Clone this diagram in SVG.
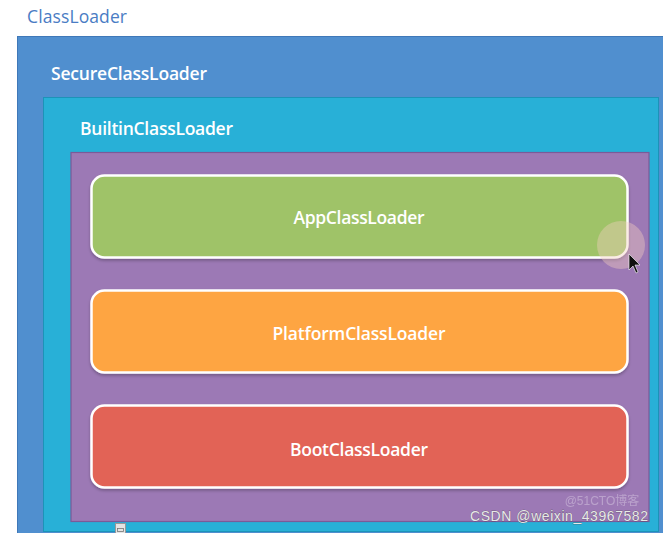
<svg xmlns="http://www.w3.org/2000/svg" width="663" height="533" viewBox="0 0 663 533">
  <defs>
    <style>
      .lbl { font-family: "Open Sans", "Noto Sans", "Liberation Sans", sans-serif; font-size: 17.5px; font-weight: 600; }
      .w { fill: #ffffff; }
      .box { stroke: #ffffff; stroke-width: 2.5; }
      .ctr { text-anchor: middle; }
      .wm { font-family: "Liberation Sans", "Noto Sans CJK SC", sans-serif; font-size: 14px; fill: #e8e8e8; stroke: #444; stroke-width: 0.4; paint-order: stroke; }
    </style>
    <filter id="sh" x="-5%" y="-10%" width="110%" height="130%">
      <feDropShadow dx="0" dy="2" stdDeviation="1.5" flood-color="#000" flood-opacity="0.25"/>
    </filter>
  </defs>
  <rect width="663" height="533" fill="#ffffff"/>

  <g id="classloader">
    <text class="lbl" x="27" y="23" fill="#4a7cc4" textLength="100" style="font-weight:500">ClassLoader</text>
    <rect x="17.5" y="36.5" width="660" height="510" fill="#508fcf" stroke="#3f78b8" stroke-width="1"/>
  </g>

  <g id="secureclassloader">
    <text class="lbl w" x="51" y="80" textLength="156">SecureClassLoader</text>
    <rect x="43.5" y="97.5" width="615" height="434" fill="#28b0d7" stroke="#1c93b8" stroke-width="1"/>
  </g>

  <g id="builtinclassloader">
    <text class="lbl w" x="80" y="135" textLength="153">BuiltinClassLoader</text>
    <rect x="71" y="152.5" width="578" height="369" fill="#9c79b5" stroke="#7b5a98" stroke-width="1.2"/>
  </g>

  <g id="appclassloader">
    <rect class="box" x="91.5" y="175.5" width="536" height="82" rx="13" fill="#9fc367" filter="url(#sh)"/>
    <text class="lbl w ctr" x="359" y="224" textLength="131">AppClassLoader</text>
  </g>

  <g id="platformclassloader">
    <rect class="box" x="91.5" y="290.5" width="536" height="82" rx="13" fill="#fea543" filter="url(#sh)"/>
    <text class="lbl w ctr" x="359" y="340" textLength="173">PlatformClassLoader</text>
  </g>

  <g id="bootclassloader">
    <rect class="box" x="91.5" y="405.5" width="536" height="82" rx="13" fill="#e26457" filter="url(#sh)"/>
    <text class="lbl w ctr" x="359" y="456" textLength="138">BootClassLoader</text>
  </g>

  <g id="connectors"></g>

  <g id="cursor">
    <circle cx="621" cy="245" r="24" fill="#f4d0c0" opacity="0.4"/>
    <path d="M629,254 L629,270 L633,266 L636,273 L638,272 L635,265 L640,265 Z" fill="#111" stroke="#fff" stroke-width="0.6"/>
  </g>

  <g id="icon">
    <rect x="115.5" y="523.5" width="10" height="10" fill="#e4e4e4" stroke="#999" stroke-width="1"/>
    <rect x="117.5" y="528.5" width="6" height="3" fill="none" stroke="#777" stroke-width="0.8"/>
  </g>

  <g id="watermark">
    <text x="602" y="505" font-family="'Liberation Sans', 'Noto Sans CJK SC', sans-serif" font-size="12" fill="#ffffff" opacity="0.3" text-anchor="middle">@51CTO博客</text>
    <text class="wm" x="470" y="521" textLength="178">CSDN @weixin_43967582</text>
  </g>
</svg>
